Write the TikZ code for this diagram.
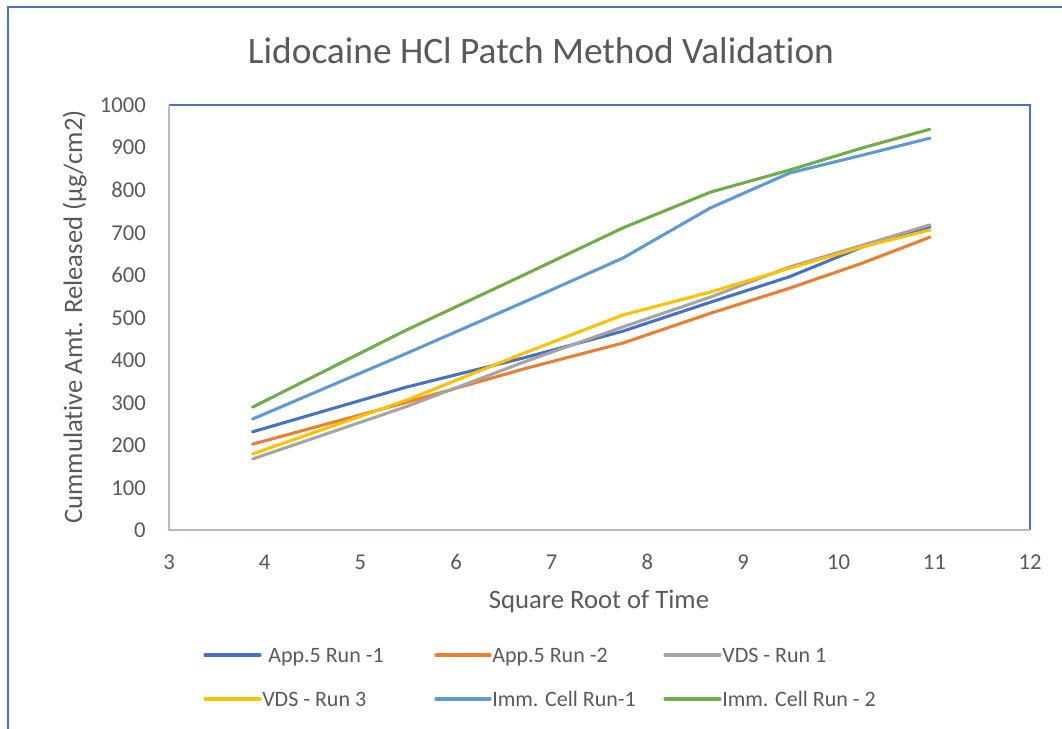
\documentclass[tikz,border=0pt]{standalone}
\usepackage{fontspec}
\setmainfont{Carlito}[Ligatures={NoCommon}]
\definecolor{txtgray}{HTML}{595959}
\definecolor{framblue}{HTML}{4472C4}
\definecolor{axgray}{HTML}{B4BAC6}
\definecolor{runA}{HTML}{4472C4}
\definecolor{runB}{HTML}{ED7D31}
\definecolor{vdsA}{HTML}{A5A5A5}
\definecolor{vdsC}{HTML}{FFC000}
\definecolor{immA}{HTML}{5B9BD5}
\definecolor{immB}{HTML}{70AD47}
\tikzset{
  every node/.style={inner sep=0pt, text=txtgray},
  ticklbl/.style={font=\fontsize{17}{17}\selectfont},
  axtitle/.style={font=\fontsize{20}{20}\selectfont},
  legtext/.style={font=\fontsize{16.5}{16.5}\selectfont, anchor=base west},
  series/.style={line width=2.3pt, line join=round, line cap=round},
}
\begin{document}
\begin{tikzpicture}[x=0.75pt,y=-0.75pt]
\useasboundingbox (0,0) rectangle (1062,728);
% outer chart frame
\draw [framblue, line width=1.5pt] (8,740) -- (8,7) -- (1070,7);
\node [font=\fontsize{28}{28}\selectfont, anchor=base] (title) at (541,63) {Lidocaine HCl Patch Method Validation};
% plot area
\draw [framblue, line width=0.9pt] (169,105) -- (1030,105) -- (1030,530);
\draw [axgray, line width=1.6pt] (169,105) -- (169,530) -- (1030,530);
\foreach \v in {3,...,12}
  \node [ticklbl, anchor=base] (xt\v) at ({169+(\v-3)*95.67},569) {\v};
\foreach \v [count=\i] in {0,100,...,1000}
  \node [ticklbl, anchor=base east] (yt\i) at (146,{530-0.425*\v+7.5}) {\v};
\node [axtitle, anchor=base] (xtitle) at (599,608) {Square Root of Time};
\node [axtitle, rotate=90, anchor=base] (ytitle) at (82,317) {Cummulative Amt. Released (µg/cm2)};
% data
\begin{scope}[shift={(-118.01,530)}, xscale=95.67, yscale=-0.425]
\draw [series, runA] (3.873,231) -- (5.477,336) -- (6.708,405) -- (7.746,468) -- (8.660,536) -- (9.487,596) -- (10.247,666) -- (10.954,713);
\draw [series, runB] (3.873,202) -- (5.477,300) -- (6.708,379) -- (7.746,440) -- (8.660,510) -- (9.487,569) -- (10.247,628) -- (10.954,689);
\draw [series, vdsA] (3.873,167) -- (5.477,290) -- (6.708,395) -- (7.746,478) -- (8.660,548) -- (9.487,619) -- (10.247,670) -- (10.954,718);
\draw [series, vdsC] (3.873,179) -- (5.477,305) -- (6.708,416) -- (7.746,506) -- (8.660,560) -- (9.487,616) -- (10.247,666) -- (10.954,706);
\draw [series, immA] (3.873,261) -- (5.477,415) -- (6.708,536) -- (7.746,640) -- (8.660,758) -- (9.487,840) -- (10.247,882) -- (10.954,922);
\draw [series, immB] (3.873,289) -- (5.477,470) -- (6.708,600) -- (7.746,711) -- (8.660,795) -- (9.487,847) -- (10.247,899) -- (10.954,943);
\end{scope}
% legend
\draw [series, runA] (205,655) -- (260,655);
\node [legtext] (legA) at (268,662) {App.5 Run -1};
\draw [series, runB] (436,655) -- (490,655);
\node [legtext] (legB) at (492,662) {App.5 Run -2};
\draw [series, vdsA] (665,655) -- (720,655);
\node [legtext] (legC) at (722,662) {VDS - Run 1};
\draw [series, vdsC] (205,699) -- (260,699);
\node [legtext] (legD) at (262,706) {VDS - Run 3};
\draw [series, immA] (436,699) -- (490,699);
\node [legtext] (legE) at (492,706) {Imm. Cell Run-1};
\draw [series, immB] (665,699) -- (720,699);
\node [legtext] (legF) at (722,706) {Imm. Cell Run - 2};
\end{tikzpicture}
\end{document}
